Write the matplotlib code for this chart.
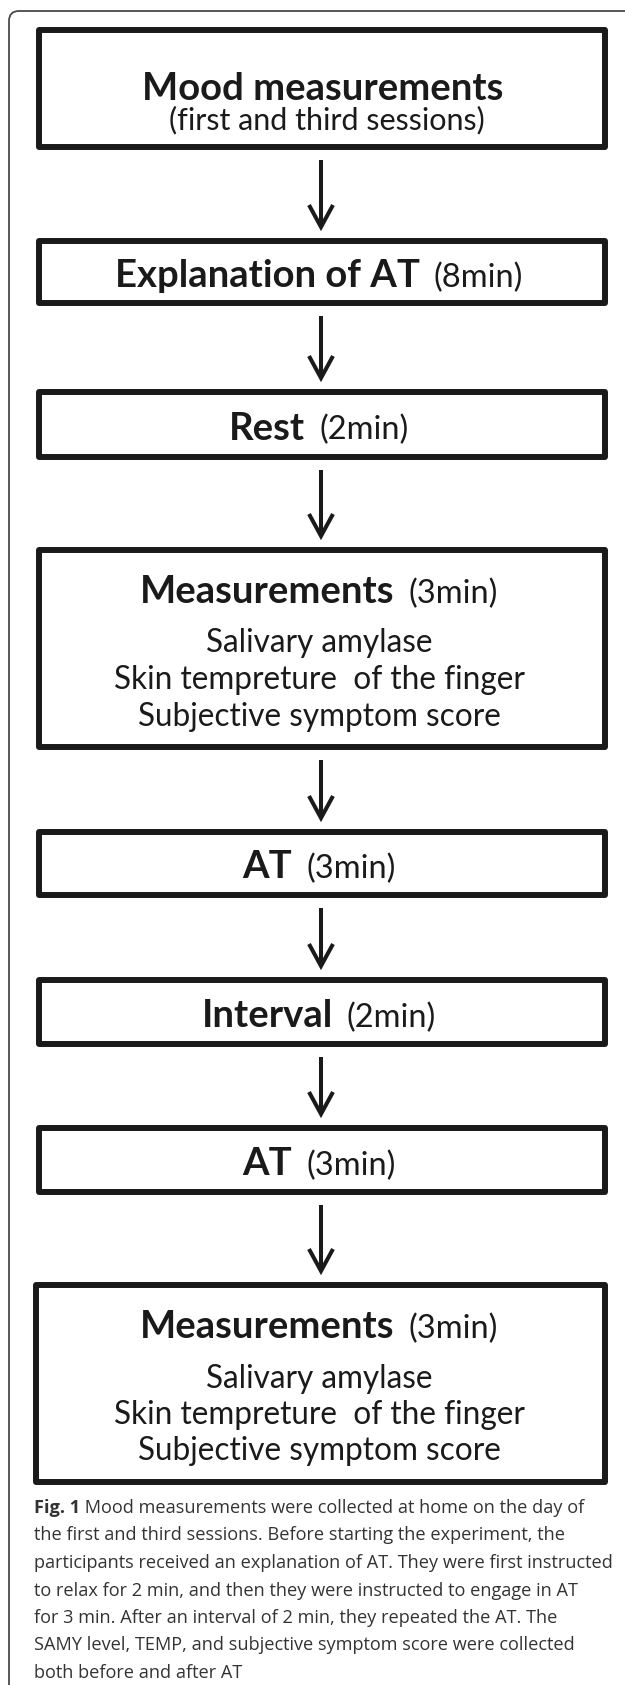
import matplotlib.pyplot as plt
from matplotlib.patches import FancyBboxPatch, Rectangle

# 박스에 들어가는 내용
titles = ['Mood measurements', 'Explanation of AT', 'Rest', 'Measurements',
          'AT', 'Interval', 'AT', 'Measurements']
durations = ['', '(8min)', '(2min)', '(3min)', '(3min)', '(2min)', '(3min)', '(3min)']
subtitle = '(first and third sessions)'
measure_items = ['Salivary amylase', 'Skin tempreture  of the finger', 'Subjective symptom score']

caption_bold = 'Fig. 1'
caption_lines = [
    ' Mood measurements were collected at home on the day of',
    'the first and third sessions. Before starting the experiment, the',
    'participants received an explanation of AT. They were first instructed',
    'to relax for 2 min, and then they were instructed to engage in AT',
    'for 3 min. After an interval of 2 min, they repeated the AT. The',
    'SAMY level, TEMP, and subjective symptom score were collected',
    'both before and after AT',
]

# 레이아웃 (픽셀 단위)
W, H = 625, 1685
box_top = [30, 241, 392, 550, 832, 980, 1128, 1285]
box_bottom = [147, 303, 457, 747, 895, 1044, 1192, 1482]
box_left = [39, 39, 39, 39, 39, 39, 39, 36]
box_right = 605
arrow_x = 321
text_x = 319
ink = '#1a1a1a'
box_font = 'Lato'
head_size = 27.5
dur_size = 23.5
item_size = 22.7

fig = plt.figure(figsize=(W / 100, H / 100), dpi=100)
ax = fig.add_axes([0, 0, 1, 1])
ax.set_xlim(0, W)
ax.set_ylim(H, 0)
ax.axis('off')

# 바깥 테두리 (오른쪽/아래는 잘려 있음)
ax.add_patch(FancyBboxPatch((9, 11), 660, 1720, boxstyle='round,pad=0,rounding_size=10',
                            fill=False, ec='#4a4a4a', lw=1.3))

fig.canvas.draw()
renderer = fig.canvas.get_renderer()


def two_part(y, bold, normal, gap=14):
    t1 = ax.text(0, y, bold, fontsize=head_size, fontweight='bold', family=box_font,
                 va='baseline', ha='left', color=ink)
    t2 = ax.text(0, y, normal, fontsize=dur_size, family=box_font,
                 va='baseline', ha='left', color=ink)
    w1 = t1.get_window_extent(renderer).width
    w2 = t2.get_window_extent(renderer).width
    x0 = text_x - (w1 + gap + w2) / 2
    t1.set_x(x0)
    t2.set_x(x0 + w1 + gap)


for i in range(len(titles)):
    top, bot = box_top[i], box_bottom[i]
    ax.add_patch(Rectangle((box_left[i], top), box_right - box_left[i], bot - top,
                           fill=False, ec=ink, lw=4.3, joinstyle='round'))

    if i == 0:
        ax.text(text_x + 4, 100, titles[i], fontsize=head_size, fontweight='bold', family=box_font,
                ha='center', va='baseline', color=ink)
        ax.text(text_x + 8, 129, subtitle, fontsize=22, family=box_font,
                ha='center', va='baseline', color=ink)
    elif titles[i] == 'Measurements':
        two_part(top + 53, titles[i], durations[i])
        for k, item in enumerate(measure_items):
            ax.text(text_x, top + 102.5 + 36.5 * k, item, fontsize=item_size, family=box_font,
                    ha='center', va='baseline', color=ink)
    else:
        two_part((top + bot) / 2 + 15, titles[i], durations[i])

    # 다음 박스로 가는 화살표
    if i < len(titles) - 1:
        y0 = bot + 13
        tip = box_top[i + 1] - 14
        ax.plot([arrow_x, arrow_x], [y0, tip - 2], color=ink, lw=2.9, solid_capstyle='butt')
        ax.plot([arrow_x - 12, arrow_x, arrow_x + 12], [tip - 22, tip, tip - 22],
                color=ink, lw=2.9, solid_joinstyle='miter', solid_capstyle='butt')

# 그림 설명
cap_color = '#333333'
cap_size = 13.1
cap_y0 = 1513
cap_dy = 27.5
t = ax.text(34, cap_y0, caption_bold, fontsize=cap_size, fontweight='bold', family='Open Sans',
            va='baseline', ha='left', color=cap_color)
wb = t.get_window_extent(renderer).width
for k, line in enumerate(caption_lines):
    x = 34 + wb if k == 0 else 34
    ax.text(x, cap_y0 + cap_dy * k, line, fontsize=cap_size, family='Open Sans',
            va='baseline', ha='left', color=cap_color)

fig.savefig('out.png', dpi=100)
